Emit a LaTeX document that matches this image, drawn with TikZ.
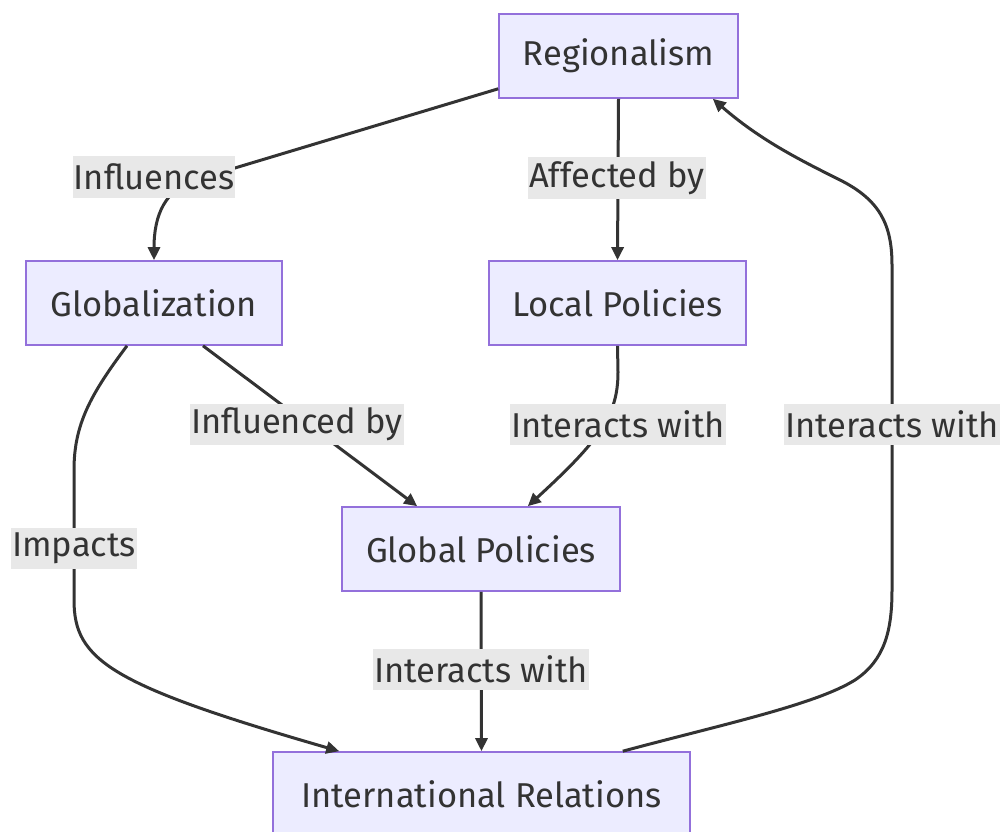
\documentclass[tikz,border=0pt]{standalone}
\usepackage{fontspec}
\setmainfont{Fira Sans}
\usetikzlibrary{arrows.meta}
\definecolor{nodefill}{HTML}{ECECFF}
\definecolor{nodeborder}{HTML}{9370DB}
\definecolor{edgecol}{HTML}{333333}
\definecolor{labelbg}{HTML}{E8E8E8}
\definecolor{textcol}{HTML}{333333}
\begin{document}
\begin{tikzpicture}[x=1pt,y=-1pt,
  box/.style={draw=nodeborder, line width=1.6pt, fill=nodefill, text=textcol,
    minimum height=84pt, inner sep=0pt, font=\fontsize{34.5}{40}\selectfont},
  elabel/.style={fill=labelbg, text=textcol, inner xsep=1pt, inner ysep=0pt,
    minimum height=41pt, font=\fontsize{34.5}{40}\selectfont},
  edge/.style={draw=edgecol, line width=3pt, -{Triangle[length=13pt,width=12pt]}}]
\useasboundingbox (0,0) rectangle (1007,832);
% nodes
\node[box, minimum width=239pt] (reg) at (618.5,56) {Regionalism};
\node[box, minimum width=256pt] (glob) at (154,303) {Globalization};
\node[box, minimum width=257pt] (loc) at (617.5,303) {Local Policies};
\node[box, minimum width=278pt] (gp) at (481,549) {Global Policies};
\node[box, minimum width=417pt] (ir) at (481.5,794) {International Relations};
% edges
\draw[edge] ([yshift=10pt]reg.south west) -- (195,180) .. controls (165,190) and (154,215) .. (glob.north);
\draw[edge] (reg.south) -- (loc.north);
\draw[edge] ([xshift=49pt]glob.south) -- ([xshift=76pt]gp.north west);
\draw[edge] (loc.south) -- (618,372) .. controls (618,415) and (600,440) .. ([xshift=-93pt]gp.north east);
\draw[edge] ([xshift=-27pt]glob.south) .. controls (90,395) and (74,425) .. (74,470) -- (74,600) .. controls (74,660) and (110,685) .. ([xshift=67pt]ir.north west);
\draw[edge] (gp.south) -- (ir.north);
\draw[edge] ([xshift=-68pt]ir.north east) .. controls (720,725) and (815,705) .. (855,680) .. controls (885,660) and (892,630) .. (892,590) -- (892,265) .. controls (892,225) and (880,200) .. (840,180) .. controls (800,160) and (760,140) .. ([xshift=-26pt]reg.south east);
% labels
\node[elabel] (l1) at (154,177) {Influences};
\node[elabel] (l2) at (617,178) {Affected by};
\node[elabel] (l3) at (297,424) {Influenced by};
\node[elabel] (l4) at (618,424) {Interacts with};
\node[elabel] (l5) at (892,424) {Interacts with};
\node[elabel] (l6) at (74,548) {Impacts};
\node[elabel] (l7) at (481,669) {Interacts with};
\end{tikzpicture}
\end{document}
